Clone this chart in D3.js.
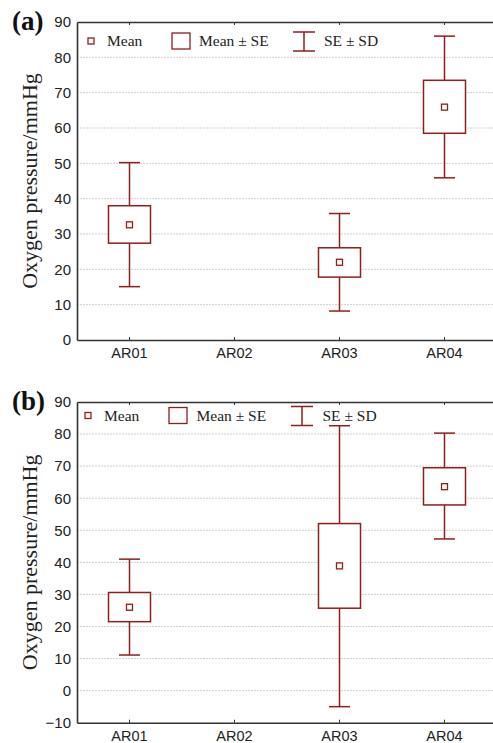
<!DOCTYPE html>
<html><head><meta charset="utf-8">
<script src="https://cdn.jsdelivr.net/npm/d3@7"></script>
<style>
html,body{margin:0;padding:0;background:#fff;}
svg{display:block;}
</style></head>
<body>
<svg id="chart" width="493" height="743"></svg>
<script>
const categories = ["AR01","AR02","AR03","AR04"];
// Panel (a)
const meanA   = [32.6, null, 22.0, 65.9];
const seLowA  = [27.4, null, 17.8, 58.5];
const seHighA = [38.0, null, 26.1, 73.5];
const sdLowA  = [15.1, null, 8.2, 45.9];
const sdHighA = [50.2, null, 35.8, 86.0];
const ticksA  = [0,10,20,30,40,50,60,70,80,90];
// Panel (b)
const meanB   = [26.0, null, 38.9, 63.6];
const seLowB  = [21.5, null, 25.7, 57.9];
const seHighB = [30.6, null, 52.1, 69.5];
const sdLowB  = [11.1, null, -5.0, 47.3];
const sdHighB = [41.0, null, 82.6, 80.3];
const ticksB  = [-10,0,10,20,30,40,50,60,70,80,90];

const legendLabels = ["Mean","Mean \u00b1 SE","SE \u00b1 SD"];
const yTitle = "Oxygen pressure/mmHg";

const svg = d3.select("#chart");
const RED = "#8f1e1e";
const SANS = "'Liberation Sans', Arial, Helvetica, sans-serif";
const SERIF = "'Liberation Serif', 'Times New Roman', serif";

function panel(opts){
  const {label, top, bottom, domain, ticks, mean, seLow, seHigh, sdLow, sdHigh, legY, legX} = opts;
  const left = 77, right = 497;
  const x = d3.scaleBand().domain(categories).range([left, right]).padding(0);
  const y = d3.scaleLinear().domain(domain).range([bottom, top]);
  const g = svg.append("g");

  // grid
  g.append("g").selectAll("line").data(ticks.filter(t => t !== domain[0] && t !== domain[1]))
    .join("line")
    .attr("x1", left).attr("x2", 493)
    .attr("y1", d => y(d)).attr("y2", d => y(d))
    .attr("stroke", "#cfcfcf").attr("stroke-width", 1)
    .attr("stroke-dasharray", "2,1");

  // axes
  const ax = g.append("g").attr("transform", `translate(${left},0)`)
    .call(d3.axisLeft(y).tickValues(ticks).tickSizeInner(0).tickSizeOuter(0).tickPadding(6)
      .tickFormat(d => d < 0 ? "\u2212" + Math.abs(d) : d));
  ax.select(".domain").attr("stroke", "#333").attr("stroke-width", 1.6);
  ax.selectAll("text").attr("font-family", SANS).attr("font-size", 15).attr("fill", "#222");

  const bx = g.append("g").attr("transform", `translate(0,${bottom})`)
    .call(d3.axisBottom(x).tickSizeInner(-3).tickSizeOuter(0).tickPadding(8));
  bx.select(".domain").attr("stroke", "#333").attr("stroke-width", 1.6);
  bx.selectAll(".tick line").attr("stroke", "#333");
  bx.selectAll("text").attr("font-family", SANS).attr("font-size", 14.5).attr("fill", "#222");

  const tx = g.append("g").attr("transform", `translate(0,${top})`)
    .call(d3.axisTop(x).tickSizeInner(-3).tickSizeOuter(0).tickFormat(""));
  tx.select(".domain").attr("stroke", "#333").attr("stroke-width", 1.6);
  tx.selectAll(".tick line").attr("stroke", "#333");

  // boxes
  const idx = categories.map((c, i) => i).filter(i => mean[i] !== null);
  const bw = x.bandwidth() * 0.4, cw = x.bandwidth() * 0.2;
  const cx = i => x(categories[i]) + x.bandwidth() / 2;
  const m = g.append("g").attr("stroke", RED).attr("fill", "none").attr("stroke-width", 1.5);
  idx.forEach(i => {
    m.append("line").attr("x1", cx(i)).attr("x2", cx(i)).attr("y1", y(sdHigh[i])).attr("y2", y(seHigh[i]));
    m.append("line").attr("x1", cx(i)).attr("x2", cx(i)).attr("y1", y(seLow[i])).attr("y2", y(sdLow[i]));
    m.append("line").attr("x1", cx(i) - cw/2).attr("x2", cx(i) + cw/2).attr("y1", y(sdHigh[i])).attr("y2", y(sdHigh[i]));
    m.append("line").attr("x1", cx(i) - cw/2).attr("x2", cx(i) + cw/2).attr("y1", y(sdLow[i])).attr("y2", y(sdLow[i]));
    m.append("rect").attr("x", cx(i) - bw/2).attr("width", bw)
      .attr("y", y(seHigh[i])).attr("height", y(seLow[i]) - y(seHigh[i])).attr("fill", "#fff");
    m.append("rect").attr("x", cx(i) - 3).attr("y", y(mean[i]) - 3).attr("width", 6).attr("height", 6)
      .attr("fill", "#fff").attr("stroke-width", 1.3);
  });

  // legend
  const L = g.append("g");
  L.append("rect").attr("x", legX[0] - 3).attr("y", legY - 3).attr("width", 6).attr("height", 6)
    .attr("fill", "#fff").attr("stroke", RED).attr("stroke-width", 1.3);
  L.append("rect").attr("x", legX[2]).attr("y", legY - 8).attr("width", 18).attr("height", 16)
    .attr("fill", "#fff").attr("stroke", RED).attr("stroke-width", 1.3);
  const ex = legX[4];
  L.append("line").attr("x1", ex - 11).attr("x2", ex + 11).attr("y1", legY - 9).attr("y2", legY - 9).attr("stroke", RED).attr("stroke-width", 1.5);
  L.append("line").attr("x1", ex - 11).attr("x2", ex + 11).attr("y1", legY + 10).attr("y2", legY + 10).attr("stroke", RED).attr("stroke-width", 1.5);
  L.append("line").attr("x1", ex).attr("x2", ex).attr("y1", legY - 9).attr("y2", legY + 10).attr("stroke", RED).attr("stroke-width", 1.5);
  [legX[1], legX[3], legX[5]].forEach((tx0, k) => {
    L.append("text").attr("x", tx0).attr("y", legY + 5).text(legendLabels[k])
      .attr("font-family", SERIF).attr("font-size", 15.5).attr("fill", "#222");
  });

  // panel label
  g.append("text").attr("x", 12).attr("y", top + 8).text(label)
    .attr("font-family", SERIF).attr("font-weight", "bold").attr("font-size", 27).attr("fill", "#111");

  // y title
  g.append("text").attr("transform", `translate(37,${(top + bottom) / 2}) rotate(-90)`)
    .attr("text-anchor", "middle").text(yTitle)
    .attr("font-family", SERIF).attr("font-size", 22).attr("fill", "#222");
}

panel({label: "(a)", top: 22, bottom: 340, domain: [0, 90], ticks: ticksA,
  mean: meanA, seLow: seLowA, seHigh: seHighA, sdLow: sdLowA, sdHigh: sdHighA,
  legY: 41, legX: [91, 107, 172, 199, 304, 324]});
panel({label: "(b)", top: 402, bottom: 722.7, domain: [-10, 90], ticks: ticksB,
  mean: meanB, seLow: seLowB, seHigh: seHighB, sdLow: sdLowB, sdHigh: sdHighB,
  legY: 415.5, legX: [88, 104, 169, 196.5, 302, 322.5]});
</script>
</body></html>
